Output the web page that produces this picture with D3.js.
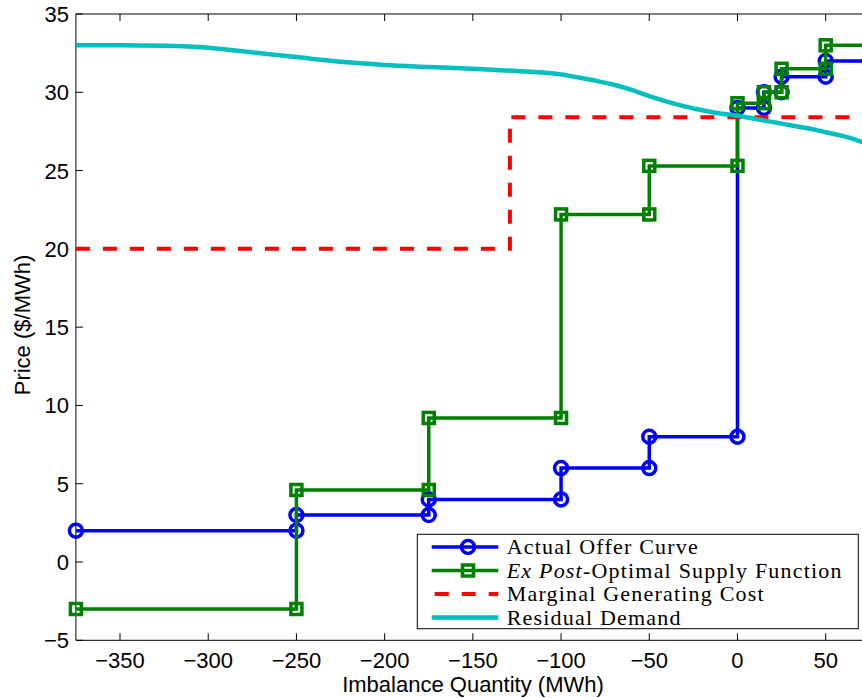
<!DOCTYPE html>
<html><head><meta charset="utf-8">
<script src="https://cdn.jsdelivr.net/npm/d3@7"></script>
<style>
html,body{margin:0;padding:0;background:#fff;overflow:hidden}
svg{display:block}
</style></head>
<body>
<svg id="chart" width="862" height="698"></svg>
<script>
// ---- data ----
const offerQ = [-375,-250,-250,-175,-175,-100,-100,-50,-50,0,0,15,15,25,25,50,50,75];
const offerP = [2,2,3,3,4,4,6,6,8,8,29,29,30,30,31,31,32,32];
const optQ   = [-375,-250,-250,-175,-175,-100,-100,-50,-50,0,0,15,15,25,25,50,50,75];
const optP   = [-3,-3,4.6,4.6,9.2,9.2,22.2,22.2,25.3,25.3,29.3,29.3,30,30,31.5,31.5,33,33];
const costQ  = [-375,-129,-129,75];
const costP  = [20,20,28.4,28.4];
const demandQ = [-375,-350,-325,-300,-275,-250,-225,-200,-175,-150,-125,-110,-100,-90,-80,-70,-60,-50,-40,-30,-20,-10,0,10,20,30,40,50,60,70,75];
const demandP = [33.0,33.0,32.97,32.85,32.55,32.25,31.95,31.75,31.62,31.5,31.36,31.26,31.14,30.94,30.73,30.48,30.15,29.75,29.4,29.1,28.85,28.65,28.5,28.3,28.1,27.9,27.7,27.45,27.2,26.85,26.65];
const xTicks = [-350,-300,-250,-200,-150,-100,-50,0,50];
const yTicks = [-5,0,5,10,15,20,25,30,35];
const legendLabels = ["Actual Offer Curve","Ex Post-Optimal Supply Function","Marginal Generating Cost","Residual Demand"];

// ---- layout ----
const L = 75.9, R = 869.8, T = 14, B = 640.3;
const x = d3.scaleLinear().domain([-375, 75]).range([L, R]);
const y = d3.scaleLinear().domain([-5, 35]).range([B, T]);
const svg = d3.select("#chart");
const sans = "Liberation Sans, Arial, Helvetica, sans-serif";
const serif = "Liberation Serif, Times New Roman, serif";

// axes box (left, top, bottom, right)
const ax = svg.append("g").attr("stroke","#000").attr("stroke-width",1).attr("fill","none");
ax.append("path").attr("d", `M${L},${T}H${R}M${L},${B}H${R}M${L},${T}V${B}M${R},${T}V${B}`);
xTicks.forEach(t => {
  ax.append("path").attr("d", `M${x(t)},${B}v-7M${x(t)},${T}v7`);
});
yTicks.forEach(t => {
  ax.append("path").attr("d", `M${L},${y(t)}h7M${R},${y(t)}h-7`);
});
const fmt = v => (v < 0 ? "\u2212" + Math.abs(v) : String(v));
svg.append("g").selectAll("text").data(xTicks).join("text")
  .attr("x", d => x(d)).attr("y", 668)
  .attr("text-anchor","middle").attr("font-family",sans).attr("font-size",22)
  .text(fmt);
svg.append("g").selectAll("text").data(yTicks).join("text")
  .attr("x", 69).attr("y", d => y(d) + 8)
  .attr("text-anchor","end").attr("font-family",sans).attr("font-size",22)
  .text(fmt);
svg.append("text").attr("x", 473).attr("y", 692).attr("text-anchor","middle")
  .attr("font-family",sans).attr("font-size",22).text("Imbalance Quantity (MWh)");
svg.append("text").attr("transform","translate(30,325) rotate(-90)").attr("text-anchor","middle")
  .attr("font-family",sans).attr("font-size",22).text("Price ($/MWh)");

// ---- series ----
const line = d3.line().x(d => x(d[0])).y(d => y(d[1]));
const zip = (a, b) => a.map((v, i) => [v, b[i]]);
const offer = zip(offerQ, offerP), opt = zip(optQ, optP), cost = zip(costQ, costP), demand = zip(demandQ, demandP);

const blue = "#0000ff", green = "#008000", red = "#ff0000", cyan = "#00bfbf";
const LW = 3.5;

svg.append("path").attr("d", line(offer)).attr("fill","none").attr("stroke",blue).attr("stroke-width",LW);
svg.append("g").selectAll("circle").data(offer).join("circle")
  .attr("cx", d => x(d[0])).attr("cy", d => y(d[1])).attr("r", 6.5)
  .attr("fill","none").attr("stroke",blue).attr("stroke-width",LW);

svg.append("path").attr("d", line(opt)).attr("fill","none").attr("stroke",green).attr("stroke-width",LW);
svg.append("g").selectAll("rect").data(opt).join("rect")
  .attr("x", d => x(d[0]) - 5.5).attr("y", d => y(d[1]) - 5.5).attr("width", 11).attr("height", 11)
  .attr("fill","none").attr("stroke",green).attr("stroke-width",LW);

svg.append("path").attr("d", line(cost)).attr("fill","none").attr("stroke",red).attr("stroke-width",4)
  .attr("stroke-dasharray","14,13");

svg.append("path").attr("d", d3.line().curve(d3.curveMonotoneX).x(d => x(d[0])).y(d => y(d[1]))(demand))
  .attr("fill","none").attr("stroke",cyan).attr("stroke-width",4.5);

// ---- legend ----
const lg = svg.append("g");
lg.append("rect").attr("x",417.3).attr("y",534.3).attr("width",441).attr("height",94.4)
  .attr("fill","#fff").attr("stroke","#000").attr("stroke-width",1);
const rowsY = [547, 570.5, 594, 617.5];
const sx0 = 431.7, sx1 = 498.3, smid = 468;
const styles = [
  {c: blue, w: LW, dash: null, mk: "circle"},
  {c: green, w: LW, dash: null, mk: "square"},
  {c: red, w: 4, dash: "14,13", mk: null},
  {c: cyan, w: 4.5, dash: null, mk: null}
];
legendLabels.forEach((lab, i) => {
  const yy = rowsY[i], s = styles[i];
  const p = lg.append("path").attr("d", `M${sx0},${yy}H${sx1}`).attr("stroke", s.c).attr("stroke-width", s.w).attr("fill","none");
  if (s.dash) p.attr("stroke-dasharray", s.dash).attr("stroke-dashoffset", -3);
  if (s.mk === "circle") lg.append("circle").attr("cx",smid).attr("cy",yy).attr("r",6.5).attr("fill","none").attr("stroke",s.c).attr("stroke-width",LW);
  if (s.mk === "square") lg.append("rect").attr("x",smid-5.5).attr("y",yy-5.5).attr("width",11).attr("height",11).attr("fill","none").attr("stroke",s.c).attr("stroke-width",LW);
  const t = lg.append("text").attr("x", 506.7).attr("y", yy + 7).attr("font-family", serif)
    .attr("font-size", 22).attr("letter-spacing", 1.2);
  if (i === 1) {
    t.append("tspan").attr("font-style","italic").text("Ex Post");
    t.append("tspan").text("-Optimal Supply Function");
  } else {
    t.text(lab);
  }
});
</script>
</body></html>
